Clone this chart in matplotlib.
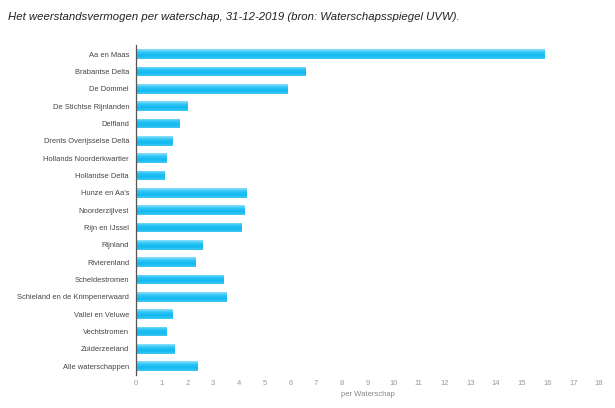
import numpy as np
import matplotlib
matplotlib.use('Agg')
import matplotlib.pyplot as plt
from matplotlib.colors import LinearSegmentedColormap

plt.rcParams['font.family'] = ['Liberation Sans', 'DejaVu Sans']

#####################
# DATA
#####################
waterschappen = ['Aa en Maas', 'Brabantse Delta', 'De Dommel', 'De Stichtse Rijnlanden',
                 'Delfland', 'Drents Overijsselse Delta', 'Hollands Noorderkwartier',
                 'Hollandse Delta', "Hunze en Aa's", 'Noorderzijlvest', 'Rijn en IJssel',
                 'Rijnland', 'Rivierenland', 'Scheldestromen',
                 'Schieland en de Krimpenerwaard', 'Vallei en Veluwe', 'Vechtstromen',
                 'Zuiderzeeland', 'Alle waterschappen']
weerstandsvermogen = [15.9, 6.6, 5.9, 2.0, 1.7, 1.4, 1.2, 1.1, 4.3, 4.2, 4.1,
                      2.6, 2.3, 3.4, 3.5, 1.4, 1.2, 1.5, 2.4]
x_ticks = list(range(0, 19))

title = 'Het weerstandsvermogen per waterschap, 31-12-2019 (bron: Waterschapsspiegel UVW).'

fig = plt.figure(figsize=(6.15, 4.08), dpi=100)
ax = fig.add_axes([0.2211, 0.0816, 0.7528, 0.8071])

y = np.arange(len(waterschappen))
bars = ax.barh(y, weerstandsvermogen, height=0.56, color='#19bdf3', edgecolor='none')

# gradient fill: lighter at the top of each bar
grad_cmap = LinearSegmentedColormap.from_list('bar', ['#8fe0fb', '#2cc4f6', '#12b8ef', '#3fc8f5'])
grad = np.linspace(0, 1, 64).reshape(-1, 1)
for b in bars:
    x0, y0 = b.get_x(), b.get_y()
    w, h = b.get_width(), b.get_height()
    im = ax.imshow(grad, cmap=grad_cmap, aspect='auto', extent=[x0, x0 + w, y0 + h, y0],
                   origin='upper', zorder=2)
    im.set_clip_path(b)

ax.set_xlim(0, 18)
ax.set_ylim(len(waterschappen) - 0.5, -0.5)
ax.set_yticks(y)
ax.set_yticklabels(waterschappen, fontsize=5.4, color='#444444')
ax.set_xticks(x_ticks)
ax.set_xticklabels([str(t) for t in x_ticks], fontsize=5.5, color='#999999')
ax.tick_params(axis='y', length=0, pad=5)
ax.tick_params(axis='x', length=0, pad=4)

for s in ['top', 'right', 'bottom']:
    ax.spines[s].set_visible(False)
ax.spines['left'].set_color('#555555')
ax.spines['left'].set_linewidth(0.9)

ax.set_xlabel('per Waterschap', fontsize=5.5, color='#888888', labelpad=3)

fig.text(0.013, 0.958, title, fontsize=8.2, style='italic', color='#222222', va='center', ha='left')

fig.savefig('out.png', dpi=100)
